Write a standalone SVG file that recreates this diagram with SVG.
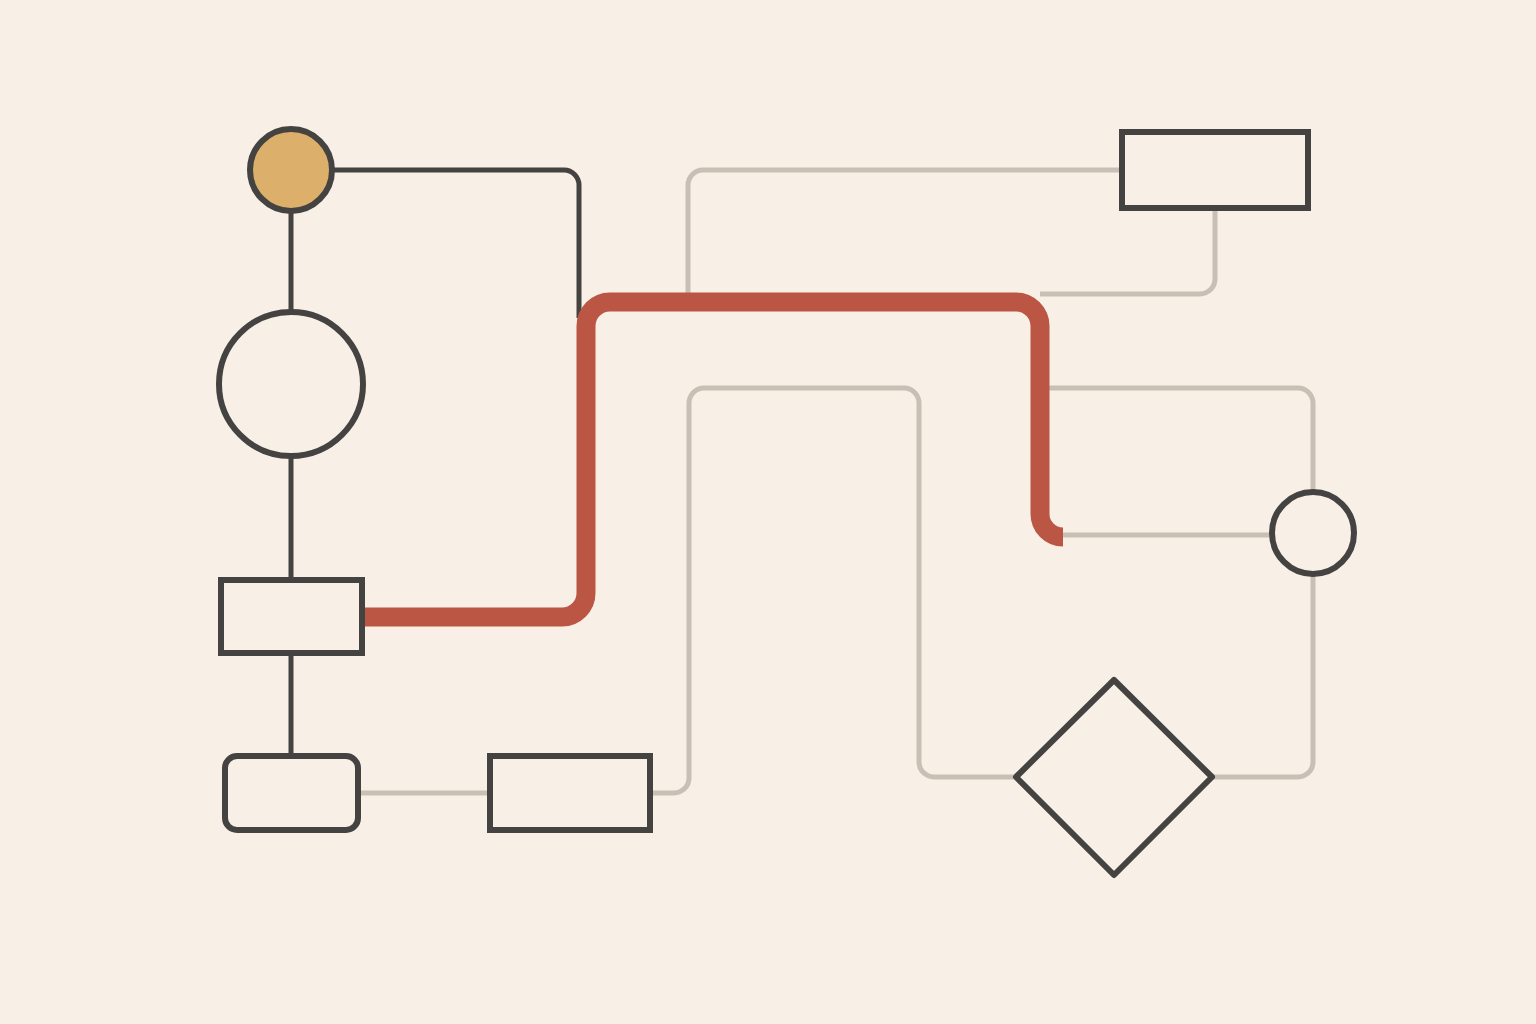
<svg xmlns="http://www.w3.org/2000/svg" width="1536" height="1024" viewBox="0 0 1536 1024">
<style>
.node{fill:none;stroke:#444341;stroke-width:6}
.dark{fill:none;stroke:#444341;stroke-width:5;stroke-linecap:butt;stroke-linejoin:round}
.gray{fill:none;stroke:#c8c0b4;stroke-width:5;stroke-linecap:butt;stroke-linejoin:round}
.red{fill:none;stroke:#bb5644;stroke-width:19;stroke-linecap:butt;stroke-linejoin:round}
</style>
<rect x="0" y="0" width="1536" height="1024" fill="#f8efe6"/>
<g id="connectors">
<path class="gray" d="M1122,170 H703 A15,15 0 0 0 688,185 V294"/>
<path class="gray" d="M1215,211 V279 A15,15 0 0 1 1200,294 H1040"/>
<path class="gray" d="M1049,388 H1298 A15,15 0 0 1 1313,403 V490"/>
<path class="gray" d="M1055,535 H1271"/>
<path class="gray" d="M1313,576 V762 A15,15 0 0 1 1298,777 H1213"/>
<path class="gray" d="M652,793 H674 A15,15 0 0 0 689,778 V403 A15,15 0 0 1 704,388 H904 A15,15 0 0 1 919,403 V762 A15,15 0 0 0 934,777 H1015"/>
<path class="gray" d="M361,793 H488"/>
<path class="dark" d="M334,170 H564 A15,15 0 0 1 579,185 V318"/>
<path class="dark" d="M291,213 V310"/>
<path class="dark" d="M291,456 V580"/>
<path class="dark" d="M291,653 V756"/>
<path class="red" d="M364,617 H562 A24,24 0 0 0 586,593 V326 A24,24 0 0 1 610,302 H1016 A24,24 0 0 1 1040,326 V514 A23,23 0 0 0 1063,537"/>
</g>
<g id="start">
<circle cx="291" cy="170" r="41" fill="#dcb06a" stroke="#444341" stroke-width="6"/>
</g>
<g id="bigcircle">
<circle cx="291" cy="384" r="72" class="node" stroke-width="5"/>
</g>
<g id="rect1">
<rect x="221" y="580" width="141" height="73" class="node"/>
</g>
<g id="roundrect">
<rect x="225" y="756" width="133" height="74" rx="12" class="node"/>
</g>
<g id="rect2">
<rect x="490" y="756" width="160" height="74" class="node"/>
</g>
<g id="toprect">
<rect x="1122" y="132" width="186" height="76" class="node"/>
</g>
<g id="smallcircle">
<circle cx="1313" cy="533" r="41" class="node"/>
</g>
<g id="diamond">
<polygon points="1114,680 1212,777 1114,875 1016,777" class="node" stroke-width="5.5" stroke-linejoin="round"/>
</g>
</svg>
